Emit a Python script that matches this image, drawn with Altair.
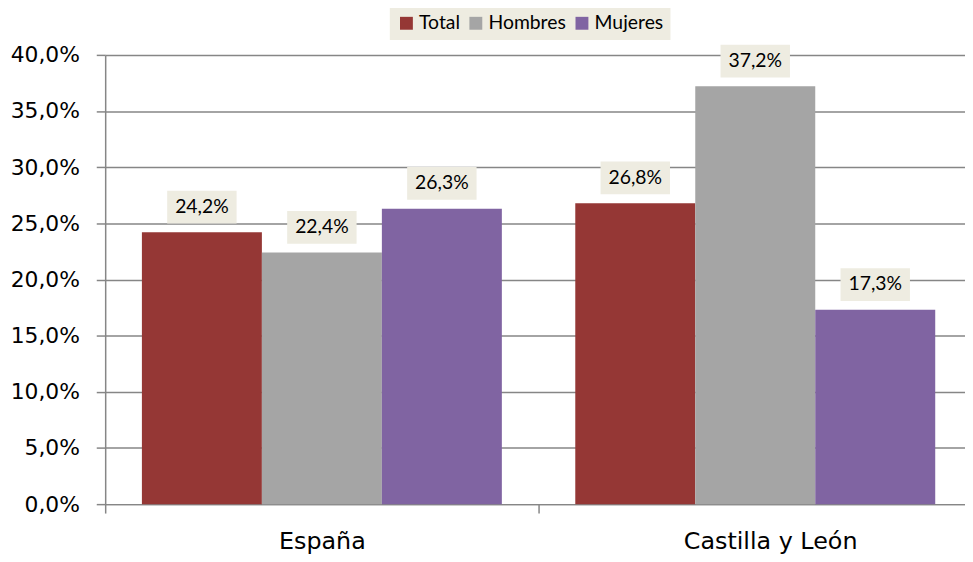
import altair as alt
import pandas as pd

regions = ["España", "Castilla y León"]
series = ["Total", "Hombres", "Mujeres"]
values_espana = [24.2, 22.4, 26.3]
values_cyl = [26.8, 37.2, 17.3]
colors = ["#953735", "#A5A5A5", "#8064A2"]
y_ticks = [0, 5, 10, 15, 20, 25, 30, 35, 40]

rows = []
for reg, vals in zip(regions, [values_espana, values_cyl]):
    for s, v in zip(series, vals):
        rows.append({"region": reg, "serie": s, "valor": v})
df = pd.DataFrame(rows)

x_enc = alt.X(
    "region:N",
    sort=regions,
    scale=alt.Scale(paddingInner=0, paddingOuter=0, rangeMax=874),
    axis=alt.Axis(
        title=None,
        labelAngle=0,
        labelFont="DejaVu Sans",
        labelFontSize=24,
        labelColor="#000000",
        labelPadding=17,
        labelOffset=alt.condition("datum.value == 'Castilla y León'", alt.value(15), alt.value(0)),
        tickBand="extent",
        tickSize=9,
        tickColor="#868686",
        tickWidth=1.5,
        domainColor="#868686",
        domainWidth=1.5,
        grid=False,
    ),
)
xoff_enc = alt.XOffset(
    "serie:N", sort=series, scale=alt.Scale(paddingInner=0, paddingOuter=0.306)
)
y_enc = alt.Y(
    "valor:Q",
    scale=alt.Scale(domain=[0, 40], nice=False),
    axis=alt.Axis(
        title=None,
        values=y_ticks,
        labelExpr="replace(format(datum.value, '.1f'), '.', ',') + '%'",
        labelFont="DejaVu Sans",
        labelFontSize=22,
        labelColor="#000000",
        labelPadding=17,
        tickSize=9,
        tickColor="#868686",
        tickWidth=1.5,
        domainColor="#868686",
        domainWidth=1.5,
        grid=True,
        gridColor="#868686",
        gridWidth=1.5,
    ),
)
color_enc = alt.Color(
    "serie:N",
    sort=series,
    scale=alt.Scale(domain=series, range=colors),
    legend=alt.Legend(
        title=None,
        orient="none",
        direction="horizontal",
        legendX=287,
        legendY=-49,
        fillColor="#EEECE1",
        padding=7,
        symbolType="square",
        symbolSize=169,
        symbolStrokeWidth=0,
        labelFont="Lato",
        labelFontSize=19.5,
        labelColor="#000000",
        labelOffset=3,
        columnPadding=6,
    ),
)

bars = alt.Chart(df).mark_bar().encode(
    x=x_enc, xOffset=xoff_enc, y=y_enc, color=color_enc
)

box_shape = "M-1,-0.4714L1,-0.4714L1,0.4714L-1,0.4714Z"
boxes = alt.Chart(df).mark_point(
    shape=box_shape, size=4900, filled=True, color="#EEECE1", opacity=1,
    strokeWidth=0, yOffset=-25.5
).encode(x=alt.X("region:N", sort=regions), xOffset=alt.XOffset("serie:N", sort=series),
         y=alt.Y("valor:Q"))

labels = alt.Chart(df).transform_calculate(
    lbl="replace(format(datum.valor, '.1f'), '.', ',') + '%'"
).mark_text(
    font="Lato", fontSize=19.5, color="#000000", dy=-25.5, baseline="middle", align="center"
).encode(x=alt.X("region:N", sort=regions), xOffset=alt.XOffset("serie:N", sort=series),
         y=alt.Y("valor:Q"), text="lbl:N")

chart = alt.layer(bars, boxes, labels).properties(
    width=867,
    height=453,
    autosize=alt.AutoSizeParams(type="none"),
    padding={"left": 98, "top": 45, "right": 0, "bottom": 48},
).configure_view(stroke=None)

chart.save("out.html", embed_options={"renderer": "svg", "actions": False})
